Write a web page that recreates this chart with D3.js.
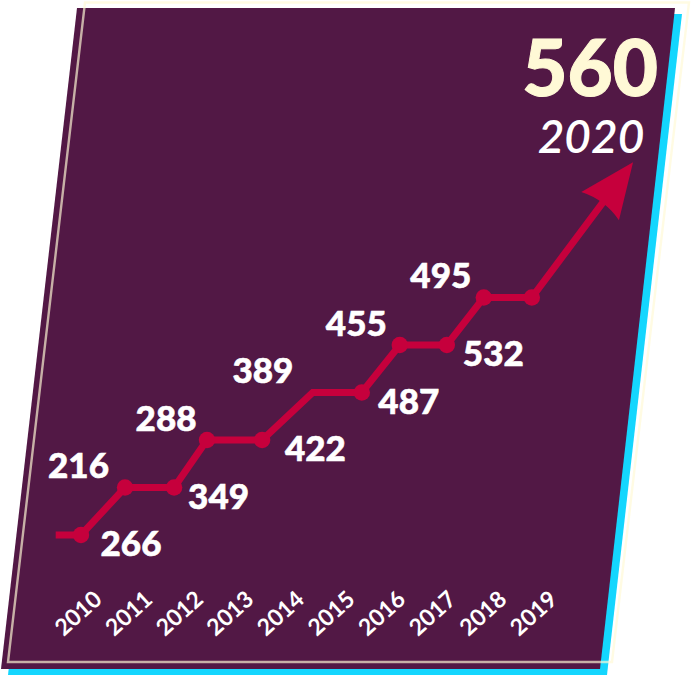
<!DOCTYPE html>
<html><head><meta charset="utf-8">
<script src="https://cdn.jsdelivr.net/npm/d3@7"></script>
<style>html,body{margin:0;padding:0;background:#fff;}svg{display:block;}</style>
</head><body>
<svg id="chart" width="691" height="675"></svg>
<script>
// ---------- data ----------
const years = ["2010","2011","2012","2013","2014","2015","2016","2017","2018","2019"];
const values = [216, 266, 288, 349, 389, 422, 455, 487, 495, 532];
const finalYear = "2020";
const finalValue = 560;
// staircase trend line: x in year units, y in step levels
const trendYear  = [2009.5, 2010.0, 2010.87, 2011.84, 2012.49, 2013.58, 2014.58, 2015.55, 2016.30, 2017.23, 2017.96, 2018.91];
const trendLevel = [0, 0, 1, 1, 2, 2, 3, 3, 4, 4, 5, 5];
const trendDot   = [false, true, true, true, true, true, false, true, true, true, true, true];
const arrowYear = 2020.91;
const arrowLevel = 7.85;

// ---------- style ----------
const PURPLE = "#521845", CYAN = "#14d6fe", CREAM = "#fff9d6", RED = "#c6003c";
const FONT = "Lato, 'Open Sans', sans-serif";

const svg = d3.select("#chart");

// background card (parallelograms)
const card = [[77,8],[675,8],[600,669],[1,669]];
const line = d3.line();
svg.append("path").attr("d", line(card.map(p=>[p[0]+7,p[1]+6])) + "Z").attr("fill", CYAN);
svg.append("path").attr("d", line(card) + "Z").attr("fill", PURPLE);
const outline = [[85,2.5],[689,2.5],[612,662],[8,662]];
svg.append("path").attr("d", line(outline) + "Z")
  .attr("fill","none").attr("stroke", CREAM).attr("stroke-opacity",0.68).attr("stroke-width",2.4);

// ---------- scales ----------
const x = d3.scaleLinear().domain([2010, 2019]).range([81, 536.4]);
const y = d3.scaleLinear().domain([0, 5]).range([535, 297.5]);

const pts = trendYear.map((t,i)=>[x(t), y(trendLevel[i])]);
const last = pts[pts.length-1];
const tip = [x(arrowYear), y(arrowLevel)];

// arrow geometry
const dx = tip[0]-last[0], dy = tip[1]-last[1];
const len = Math.hypot(dx,dy);
const ux = dx/len, uy = dy/len, nx = -uy, ny = ux;
const headLen = 55, headW = 23.5, notch = 45;
const notchPt = [tip[0]-ux*notch, tip[1]-uy*notch];

const g = svg.append("g");
g.append("path")
  .attr("d", d3.line()([...pts, notchPt]))
  .attr("fill","none").attr("stroke", RED).attr("stroke-width", 7)
  .attr("stroke-linejoin","miter").attr("stroke-linecap","butt");

const wingA = [tip[0]-ux*headLen+nx*headW, tip[1]-uy*headLen+ny*headW];
const wingB = [tip[0]-ux*headLen-nx*headW, tip[1]-uy*headLen-ny*headW];
g.append("path")
  .attr("d", `M${tip}L${wingA}Q${notchPt[0]-ux*2},${notchPt[1]-uy*2} ${wingB}Z`)
  .attr("fill", RED);

g.selectAll("circle.dot").data(pts.filter((p,i)=>trendDot[i])).join("circle")
  .attr("class","dot").attr("cx",d=>d[0]).attr("cy",d=>d[1]).attr("r",8.2).attr("fill",RED);

// ---------- value labels (one pair per rise of the staircase) ----------
const labels = values.map((v,i)=>{
  const k = Math.floor(i/2);
  const a = pts[2*k+1], b = pts[2*k+2];
  const mx = (a[0]+b[0])/2, my = (a[1]+b[1])/2;
  const above = i%2===0;
  return {v, cx: above ? mx-24.5 : mx+28, cy: above ? my-45 : my+33};
});
svg.append("g").selectAll("text").data(labels).join("text")
  .attr("x",d=>d.cx).attr("y",d=>d.cy+12)
  .attr("text-anchor","middle")
  .attr("font-family",FONT).attr("font-weight",900).attr("font-size",35)
  .attr("fill","#fff").attr("stroke","#fff").attr("stroke-width",0.6)
  .text(d=>d.v);

// ---------- year axis labels ----------
svg.append("g").selectAll("text").data(years).join("text")
  .attr("transform", d=>`translate(${x(+d)-3},613) rotate(-42)`)
  .attr("text-anchor","middle").attr("dy","0.36em")
  .attr("font-family",FONT).attr("font-weight",700).attr("font-size",23)
  .attr("fill","#fff").text(d=>d);

// ---------- headline value ----------
svg.append("text").attr("x", tip[0]-43).attr("y", tip[1]-66)
  .attr("text-anchor","middle")
  .attr("font-family",FONT).attr("font-weight",900).attr("font-size",78)
  .attr("fill",CREAM).attr("stroke",CREAM).attr("stroke-width",1)
  .text(finalValue);
svg.append("text").attr("x", tip[0]-42).attr("y", tip[1]-9)
  .attr("text-anchor","middle")
  .attr("font-family",FONT).attr("font-weight",600).attr("font-style","italic").attr("font-size",46)
  .attr("fill","#fff").text(finalYear);
</script>
</body></html>
